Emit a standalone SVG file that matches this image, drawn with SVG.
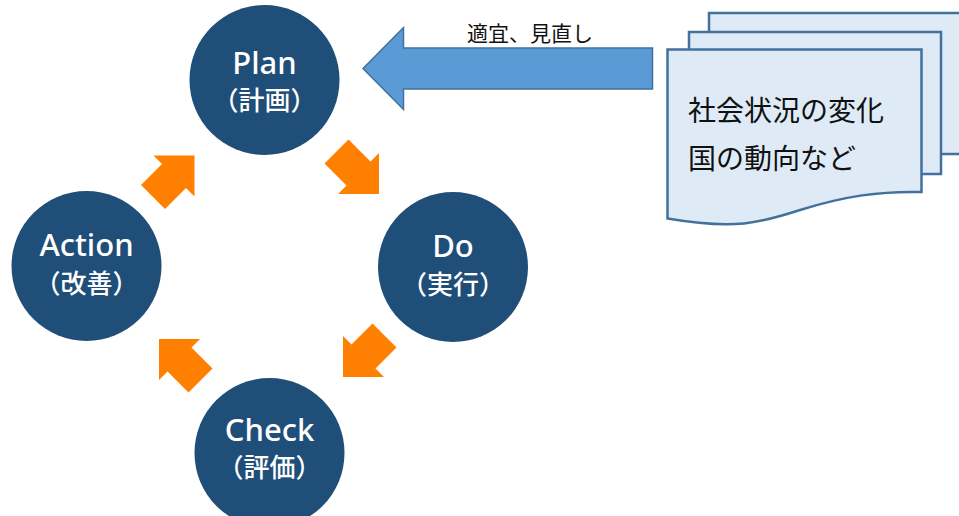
<svg xmlns="http://www.w3.org/2000/svg" width="959" height="516" viewBox="0 0 959 516">
<style>
.node{fill:#1F4E79}
.lat{font-family:"Noto Sans","Open Sans",sans-serif;font-weight:500;font-size:31px;fill:#fff;text-anchor:middle}
.cjk{font-family:"Noto Sans CJK JP","Noto Sans",sans-serif;font-weight:500;font-size:26px;fill:#fff;text-anchor:middle}
.cyc{fill:#FF8000}
.doc{fill:#DEEBF7;stroke:#41719C;stroke-width:2.5}
.dt{font-family:"Noto Sans CJK JP",sans-serif;font-size:28px;fill:#111}
</style>
<rect width="959" height="516" fill="#fff"/>
<g id="connectors">
<polygon class="cyc" points="370.5,161.5 379,153 379,194 338,194 346.5,185.5 324.5,163.5 348.5,139.5"/>
<polygon class="cyc" points="351.5,344.5 343,336 343,377 384,377 375.5,368.5 396.5,347.5 372.5,323.5"/>
<polygon class="cyc" points="191.5,347.5 200,339 159,339 159,380 167.5,371.5 188.5,392.5 212.5,368.5"/>
<polygon class="cyc" points="162,164 153.5,155.5 194.5,155.5 194.5,196.5 186,188 165,209 141,185"/>
<polygon id="review-arrow" points="363,68.5 403.5,27.5 403.5,48 652.5,48 652.5,89 403.5,89 403.5,109.5" fill="#5B9BD5" stroke="#41719C" stroke-width="1.5"/>
<text x="530" y="41" font-family="Noto Sans CJK JP,sans-serif" font-size="21" fill="#111" text-anchor="middle">適宜、見直し</text>
</g>
<g id="plan">
<circle class="node" cx="264.5" cy="80" r="75"/>
<text class="lat" x="264.5" y="74">Plan</text>
<text class="cjk" x="264.5" y="110">（計画）</text>
</g>
<g id="do">
<circle class="node" cx="453" cy="267" r="75"/>
<text class="lat" x="453" y="257">Do</text>
<text class="cjk" x="453" y="294">（実行）</text>
</g>
<g id="check">
<circle class="node" cx="269.5" cy="453" r="75"/>
<text class="lat" x="269.5" y="441">Check</text>
<text class="cjk" x="269.5" y="477">（評価）</text>
</g>
<g id="action">
<circle class="node" cx="86.5" cy="266" r="75"/>
<text class="lat" x="86.5" y="256">Action</text>
<text class="cjk" x="86.5" y="293">（改善）</text>
</g>
<g id="documents">
<rect class="doc" x="709" y="13" width="260" height="141"/>
<rect class="doc" x="689" y="32" width="252" height="142"/>
<path class="doc" d="M667.5,49.5 H921.5 V192 C880,191 845,196 800,210 C760,223 735,230 667.5,218.5 Z"/>
<text class="dt" x="688" y="121">社会状況の変化</text>
<text class="dt" x="688" y="169">国の動向など</text>
</g>
</svg>
